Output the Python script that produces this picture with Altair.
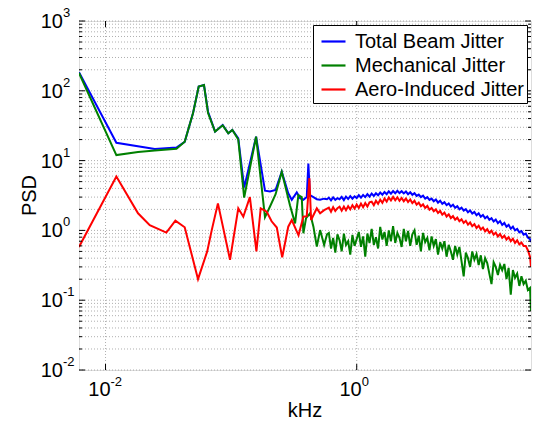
import altair as alt
import pandas as pd

FONT = "Liberation Sans"
W, H = 452, 349

names = ["Total Beam Jitter", "Mechanical Jitter", "Aero-Induced Jitter"]
colors = ["#0000ff", "#008000", "#ff0000"]

# ---- low-frequency part of each spectrum (kHz, PSD) ----
total_f = [0.00615, 0.0122, 0.0247, 0.0367, 0.0427, 0.0497, 0.0552, 0.0608, 0.0655, 0.0745,
           0.0857, 0.0949, 0.1023, 0.114, 0.127, 0.158, 0.186, 0.204, 0.226, 0.253,
           0.285, 0.304, 0.333, 0.354, 0.376, 0.40, 0.412, 0.424, 0.452, 0.481,
           0.511, 0.55, 0.58]
total_psd = [185, 18.0, 14.7, 15.4, 18.6, 47.5, 115, 121, 50, 26,
             32.4, 24.6, 27.5, 20.9, 4.1, 22, 3.7, 3.6, 3.8, 6.9,
             3.4, 2.75, 3.5, 2.9, 2.75, 3.0, 9.1, 3.2, 3.0, 2.8,
             2.75, 2.85, 2.8]

mech_f = [0.00615, 0.0122, 0.01815, 0.0247, 0.0367, 0.0427, 0.0497, 0.0552, 0.0608, 0.0655,
          0.0745, 0.0857, 0.0949, 0.1023, 0.114, 0.127, 0.158, 0.186, 0.204, 0.226,
          0.253, 0.294, 0.323, 0.343, 0.365, 0.376, 0.395, 0.425, 0.452, 0.481,
          0.511, 0.55, 0.58]
mech_psd = [180, 12.0, 13.3, 13.9, 14.8, 18.6, 47.5, 115, 121, 48,
            26, 32, 24.6, 27.5, 20, 2.95, 22, 1.55, 2.2, 3.3,
            6.9, 2.3, 1.26, 3.2, 3.0, 0.91, 1.5, 1.76, 1.13, 0.585,
            1.01, 0.62, 0.88]

aero_f = [0.00615, 0.0122, 0.01815, 0.0225, 0.0305, 0.036, 0.0427, 0.0545, 0.0645, 0.0701,
          0.0785, 0.098, 0.114, 0.125, 0.141, 0.159, 0.172, 0.192, 0.21, 0.231,
          0.255, 0.285, 0.304, 0.344, 0.376, 0.40, 0.42, 0.433, 0.481, 0.511,
          0.55, 0.58]
aero_psd = [0.58, 5.9, 1.76, 1.19, 0.93, 1.38, 1.11, 0.2, 0.5, 1.01,
            2.44, 0.38, 2.07, 1.57, 3.0, 0.5, 2.07, 1.85, 1.35, 1.1,
            0.41, 1.13, 1.41, 0.85, 1.57, 1.6, 5.6, 1.41, 2.07, 1.76,
            1.95, 2.05]

# ---- high-frequency part, common frequency bins (kHz) ----
hf_f = [0.6, 0.624, 0.649, 0.675, 0.702, 0.730, 0.759, 0.790, 0.821, 0.854,
        0.888, 0.924, 0.961, 0.999, 1.039, 1.081, 1.124, 1.169, 1.216, 1.264,
        1.315, 1.368, 1.422, 1.479, 1.538, 1.600, 1.664, 1.731, 1.800, 1.872,
        1.947, 2.025, 2.106, 2.190, 2.278, 2.369, 2.464, 2.562, 2.665, 2.771,
        2.882, 2.998, 3.117, 3.242, 3.372, 3.507, 3.647, 3.793, 3.945, 4.102,
        4.266, 4.437, 4.615, 4.799, 4.991, 5.191, 5.399, 5.615, 5.839, 6.073,
        6.316, 6.568, 6.831, 7.104, 7.388, 7.684, 7.991, 8.311, 8.643, 8.989,
        9.349, 9.723, 10.11, 10.52, 10.94, 11.37, 11.83, 12.30, 12.79, 13.30,
        13.84, 14.39, 14.97, 15.57, 16.19, 16.84, 17.51, 18.21, 18.94, 19.70,
        20.48, 21.30, 22.16, 23.04, 23.96, 24.4]
total_hf = [2.95, 2.7, 2.98, 2.74, 2.9, 2.8, 3.02, 2.72, 3.05, 2.82,
            3.1, 2.85, 3.08, 2.9, 3.2, 2.95, 3.22, 3.0, 3.3, 3.05,
            3.36, 3.12, 3.4, 3.18, 3.48, 3.25, 3.55, 3.3, 3.62, 3.36,
            3.66, 3.4, 3.7, 3.42, 3.64, 3.38, 3.6, 3.3, 3.52, 3.24,
            3.42, 3.12, 3.26, 3.0, 3.14, 2.86, 3.0, 2.74, 2.86, 2.62,
            2.78, 2.5, 2.66, 2.4, 2.54, 2.3, 2.44, 2.2, 2.33, 2.1,
            2.22, 2.0, 2.12, 1.92, 2.02, 1.82, 1.93, 1.74, 1.84, 1.65,
            1.76, 1.57, 1.66, 1.49, 1.58, 1.42, 1.5, 1.34, 1.43, 1.27,
            1.36, 1.2, 1.28, 1.13, 1.2, 1.06, 1.13, 1.0, 1.05, 0.94,
            0.98, 0.87, 0.9, 0.79, 0.75, 0.68]
mech_hf = [0.92, 0.55, 0.78, 0.48, 0.88, 0.72, 0.5, 0.9, 0.62, 0.7,
           0.45, 0.86, 0.6, 0.75, 0.95, 0.58, 0.82, 0.42, 0.9, 0.66,
           1.05, 0.62, 0.8, 0.55, 1.12, 0.74, 0.95, 0.6, 1.0, 0.7,
           1.15, 0.66, 0.92, 0.78, 0.58, 1.05, 0.7, 0.98, 0.6, 0.88,
           1.0, 0.62, 0.84, 0.5, 0.92, 0.68, 0.78, 0.52, 0.82, 0.6,
           0.75, 0.45, 0.68, 0.55, 0.7, 0.42, 0.62, 0.5, 0.38, 0.6,
           0.45, 0.58, 0.36, 0.22, 0.48, 0.4, 0.3, 0.5, 0.38, 0.46,
           0.32, 0.44, 0.28, 0.4, 0.34, 0.24, 0.17, 0.35, 0.3, 0.23,
           0.32, 0.27, 0.33, 0.2, 0.29, 0.12, 0.27, 0.21, 0.24, 0.16,
           0.22, 0.17, 0.19, 0.14, 0.15, 0.07]
aero_hf = [2.12, 1.85, 2.15, 1.9, 2.08, 2.18, 1.92, 2.2, 1.95, 2.22,
           2.0, 2.3, 2.06, 2.35, 2.1, 2.42, 2.15, 2.46, 2.2, 2.52,
           2.58, 2.3, 2.66, 2.4, 2.76, 2.48, 2.86, 2.58, 2.96, 2.68,
           3.02, 2.7, 2.98, 2.66, 2.92, 2.62, 2.86, 2.55, 2.78, 2.46,
           2.66, 2.34, 2.5, 2.22, 2.36, 2.1, 2.24, 1.98, 2.1, 1.88,
           2.0, 1.78, 1.9, 1.68, 1.8, 1.58, 1.7, 1.5, 1.6, 1.42,
           1.52, 1.35, 1.44, 1.28, 1.37, 1.21, 1.3, 1.15, 1.23, 1.08,
           1.17, 1.03, 1.1, 0.97, 1.04, 0.92, 0.99, 0.87, 0.93, 0.82,
           0.89, 0.78, 0.84, 0.74, 0.8, 0.7, 0.76, 0.66, 0.72, 0.63,
           0.67, 0.6, 0.6, 0.52, 0.42, 0.3]

# ---- axis decorations ----
y_major = [0.01, 0.1, 1, 10, 100, 1000]
y_exp = ["-2", "-1", "0", "1", "2", "3"]
x_major = [0.01, 1]
x_exp = ["-2", "0"]

parts = [
    (names[0], total_f + hf_f, total_psd + total_hf),
    (names[1], mech_f + hf_f, mech_psd + mech_hf),
    (names[2], aero_f + hf_f, aero_psd + aero_hf),
]
rows = []
for name, fs, ps in parts:
    for f, p in zip(fs, ps):
        rows.append({"series": name, "f": f, "psd": p})
df = pd.DataFrame(rows)

xscale = alt.Scale(type="log", domain=[0.00615, 24.4], nice=False)
yscale = alt.Scale(type="log", domain=[0.01, 1000], nice=False)
cscale = alt.Scale(domain=names, range=colors)

y_minor = [k * d for d in [0.01, 0.1, 1, 10, 100] for k in range(2, 10)]
y_all = pd.DataFrame({"v": y_major + y_minor})
y_maj_df = pd.DataFrame({"v": y_major, "e": y_exp})
y_min_df = pd.DataFrame({"v": y_minor})
x_maj_df = pd.DataFrame({"v": x_major, "e": x_exp})

Y = lambda: alt.Y("v:Q", scale=yscale, axis=None)
X = lambda: alt.X("v:Q", scale=xscale, axis=None)

grid_style = dict(color="#9a9a9a", strokeWidth=0.8, strokeDash=[1, 2])
hgrid = alt.Chart(y_all).mark_rule(**grid_style).encode(
    y=Y(), x=alt.value(0), x2=alt.value(W))
vgrid = alt.Chart(x_maj_df).mark_rule(**grid_style).encode(
    x=X(), y=alt.value(0), y2=alt.value(H))

tick_style = dict(color="black", strokeWidth=1)
ticks = [
    alt.Chart(y_maj_df).mark_rule(**tick_style).encode(y=Y(), x=alt.value(0), x2=alt.value(6)),
    alt.Chart(y_min_df).mark_rule(**tick_style).encode(y=Y(), x=alt.value(0), x2=alt.value(3)),
    alt.Chart(y_maj_df).mark_rule(**tick_style).encode(y=Y(), x=alt.value(W - 6), x2=alt.value(W)),
    alt.Chart(y_min_df).mark_rule(**tick_style).encode(y=Y(), x=alt.value(W - 3), x2=alt.value(W)),
    alt.Chart(x_maj_df).mark_rule(**tick_style).encode(x=X(), y=alt.value(H - 6), y2=alt.value(H)),
    alt.Chart(x_maj_df).mark_rule(**tick_style).encode(x=X(), y=alt.value(0), y2=alt.value(6)),
]

legend = alt.Legend(
    title=None, orient="top-right", offset=4,
    symbolType="stroke", symbolStrokeWidth=2.2, symbolSize=576,
    labelFont=FONT, labelFontSize=20, labelColor="black",
    labelOffset=8, rowPadding=0, padding=3, symbolOffset=4, labelLimit=400,
    strokeColor="black", fillColor="white",
)

lines = [
    alt.Chart(df[df.series == n]).mark_line(strokeWidth=2, clip=True).encode(
        x=alt.X("f:Q", scale=xscale, axis=None),
        y=alt.Y("psd:Q", scale=yscale, axis=None),
        color=alt.Color("series:N", scale=cscale, legend=legend),
    )
    for n in names
]

# tick labels: base "10" plus raised exponent
ylab_base = alt.Chart(y_maj_df).mark_text(
    font=FONT, fontSize=20, align="right", baseline="middle", dy=1, color="black"
).encode(y=Y(), x=alt.value(-16), text=alt.value("10"))
ylab_exp = alt.Chart(y_maj_df).mark_text(
    font=FONT, fontSize=13, align="left", baseline="middle", dy=-8, color="black"
).encode(y=Y(), x=alt.value(-16), text="e:N")
xlab_base = alt.Chart(x_maj_df).mark_text(
    font=FONT, fontSize=20, align="right", baseline="middle", dx=5, color="black"
).encode(x=X(), y=alt.value(H + 20), text=alt.value("10"))
xlab_exp = alt.Chart(x_maj_df).mark_text(
    font=FONT, fontSize=13, align="left", baseline="middle", dx=5, color="black"
).encode(x=X(), y=alt.value(H + 12), text="e:N")

one = pd.DataFrame({"t": [0]})
xtitle = alt.Chart(one).mark_text(
    font=FONT, fontSize=20, align="center", baseline="middle", color="black"
).encode(x=alt.value(W / 2), y=alt.value(H + 41), text=alt.value("kHz"))
ytitle = alt.Chart(one).mark_text(
    font=FONT, fontSize=20, align="center", baseline="middle", angle=270, color="black"
).encode(x=alt.value(-49), y=alt.value(H / 2), text=alt.value("PSD"))

chart = alt.layer(
    hgrid, vgrid, *lines, *ticks, ylab_base, ylab_exp, xlab_base, xlab_exp, xtitle, ytitle
).properties(
    width=W, height=H, autosize="none",
    padding={"left": 79, "top": 21, "right": 6, "bottom": 51},
).configure_view(
    stroke="black", strokeWidth=1.5
).configure_legend(
    strokeColor="black", fillColor="white", strokeWidth=1.2, cornerRadius=0
).configure(background="white")

chart.save("out.html", embed_options={"renderer": "svg", "actions": False})
